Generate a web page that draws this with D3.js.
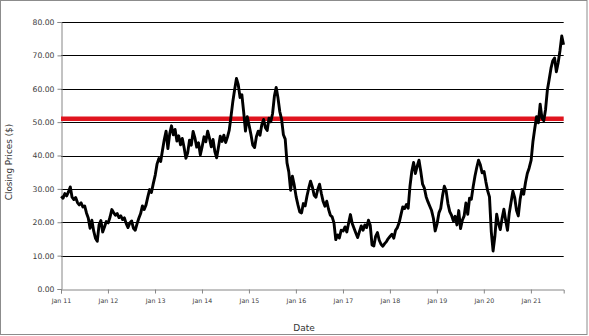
<!DOCTYPE html>
<html>
<head>
<meta charset="utf-8">
<script src="https://cdn.jsdelivr.net/npm/d3@7"></script>
<style>
  body { margin: 0; background: #fff; }
  svg { display: block; }
</style>
</head>
<body>
<div id="chart"></div>
<script>
// closing prices, one reading about every two weeks, starting early January each year
var price2011 = [27.8, 27.2, 28.6, 27.9, 29.1, 30.6, 27.5, 26.8, 27.4, 25.9, 25.2, 25.8, 24.6, 24.9, 22.8, 21.3, 18.2, 20.6, 17.4, 15.2, 14.3, 19.2, 20.5, 17.1, 18.6, 20.2];
var price2012 = [19.8, 21.5, 23.8, 22.9, 22.1, 22.6, 21.4, 21.9, 20.8, 21.3, 19.6, 18.4, 19.8, 20.4, 18.2, 17.6, 19.5, 21.2, 22.6, 24.9, 23.8, 25.2, 27.6, 29.8, 28.9, 31.5];
var price2013 = [34.2, 37.5, 39.1, 38.2, 41.6, 44.8, 47.3, 42.1, 46.5, 48.9, 46.2, 47.8, 44.3, 45.9, 43.2, 45.1, 42.4, 39.2, 40.8, 44.6, 43.1, 47.2, 45.3, 42.5, 43.8, 40.2];
var price2014 = [42.8, 45.6, 44.1, 47.3, 45.2, 42.6, 44.8, 41.2, 39.3, 42.5, 45.8, 44.2, 46.1, 43.9, 45.5, 47.6, 51.8, 56.2, 59.8, 63.1, 61.2, 57.4, 58.2, 53.1, 47.3, 51.6];
var price2015 = [48.9, 46.2, 43.1, 42.4, 45.6, 47.3, 46.1, 49.2, 50.8, 48.3, 47.5, 51.2, 50.1, 52.6, 57.8, 60.4, 57.2, 53.1, 50.8, 46.2, 44.9, 37.8, 35.1, 29.6, 33.8, 31.2];
var price2016 = [27.6, 25.2, 23.1, 22.8, 25.6, 24.9, 27.8, 30.2, 32.3, 30.6, 28.1, 27.5, 29.8, 31.4, 28.6, 26.2, 24.8, 26.3, 23.9, 22.1, 21.6, 19.8, 14.8, 16.2, 15.3, 17.6];
var price2017 = [17.4, 18.6, 17.1, 19.8, 22.3, 19.6, 18.2, 16.8, 15.4, 17.2, 18.9, 17.6, 19.2, 18.4, 20.6, 19.1, 13.2, 12.9, 15.8, 16.9, 14.6, 13.4, 12.8, 13.6, 14.2, 15.1];
var price2018 = [15.8, 16.4, 15.2, 17.6, 18.4, 19.9, 22.3, 24.6, 24.1, 25.3, 24.2, 30.8, 35.2, 37.9, 34.6, 36.8, 38.6, 35.2, 31.4, 30.2, 27.6, 26.1, 24.8, 23.5, 21.2, 17.4];
var price2019 = [19.6, 22.8, 24.1, 27.9, 30.8, 29.4, 25.6, 23.2, 22.1, 20.4, 21.8, 19.2, 23.5, 18.1, 20.6, 21.9, 25.8, 22.4, 27.2, 26.9, 30.6, 33.8, 36.4, 38.6, 37.2, 34.8];
var price2020 = [35.2, 32.1, 29.4, 27.6, 17.2, 11.4, 15.8, 22.4, 19.6, 17.8, 21.2, 23.9, 20.5, 17.6, 22.8, 26.1, 29.3, 27.4, 23.6, 21.9, 26.8, 29.8, 28.4, 31.9, 34.6, 36.2];
var price2021 = [38.6, 44.2, 48.1, 51.6, 49.8, 55.4, 51.2, 50.4, 53.8, 59.6, 62.8, 66.1, 68.4, 69.2, 65.1, 67.8, 71.4, 75.8, 73.2];

var years = [2011, 2012, 2013, 2014, 2015, 2016, 2017, 2018, 2019, 2020, 2021];
var yearPrices = [price2011, price2012, price2013, price2014, price2015, price2016, price2017, price2018, price2019, price2020, price2021];

var yTicks = [0, 10, 20, 30, 40, 50, 60, 70, 80];
var threshold = 51.0;

var data = [];
years.forEach(function(yr, k) {
  yearPrices[k].forEach(function(v, i) {
    data.push({date: new Date(yr, 0, 3 + i * 14), value: v});
  });
});

var W = 589, H = 336;
var plotL = 61, plotR = 563.7, plotT = 22, plotB = 289;

var svg = d3.select("#chart").append("svg")
  .attr("width", W).attr("height", H);

svg.append("rect")
  .attr("x", 0.5).attr("y", 0.5)
  .attr("width", 586.5).attr("height", 334)
  .attr("fill", "#fff").attr("stroke", "#8c8c8c").attr("stroke-width", 1);

var x = d3.scaleTime()
  .domain([new Date(2011, 0, 1), new Date(2021, 8, 13)])
  .range([plotL, plotR]);
var y = d3.scaleLinear().domain([0, 80]).range([plotB, plotT]);

// gridlines
svg.append("g").selectAll("line")
  .data(yTicks.slice(1)).enter().append("line")
  .attr("x1", plotL).attr("x2", plotR)
  .attr("y1", function(d) { return Math.round(y(d)) + 0.5; })
  .attr("y2", function(d) { return Math.round(y(d)) + 0.5; })
  .attr("stroke", "#000").attr("stroke-width", 1);

// y axis
var yAxis = svg.append("g")
  .attr("transform", "translate(" + (plotL + 0.5) + ",0)")
  .call(d3.axisLeft(y).tickValues(yTicks).tickFormat(d3.format(".2f")).tickSize(4).tickPadding(3));
yAxis.select(".domain").attr("stroke", "#868686");
yAxis.selectAll(".tick line").attr("stroke", "#868686");
yAxis.selectAll("text")
  .attr("font-family", "DejaVu Sans").attr("font-size", "7.7px").attr("fill", "#404040");

// x axis
var xAxis = svg.append("g")
  .attr("transform", "translate(0," + (plotB + 0.5) + ")")
  .call(d3.axisBottom(x).ticks(d3.timeYear.every(1)).tickFormat(d3.timeFormat("%b %y")).tickSize(4).tickPadding(5));
xAxis.select(".domain").attr("stroke", "#868686");
xAxis.selectAll(".tick line").attr("stroke", "#868686");
xAxis.selectAll("text")
  .attr("font-family", "DejaVu Sans").attr("font-size", "6.3px").attr("fill", "#404040");

// threshold line
svg.append("line")
  .attr("x1", plotL).attr("x2", plotR)
  .attr("y1", y(threshold)).attr("y2", y(threshold))
  .attr("stroke", "#e0141e").attr("stroke-width", 4.5);

// price line
var line = d3.line()
  .x(function(d) { return x(d.date); })
  .y(function(d) { return y(d.value); });

svg.append("path")
  .datum(data)
  .attr("d", line)
  .attr("fill", "none")
  .attr("stroke", "#000")
  .attr("stroke-width", 2.9)
  .attr("stroke-linejoin", "round");

// titles
svg.append("text")
  .attr("x", 304).attr("y", 331)
  .attr("text-anchor", "middle")
  .attr("font-family", "DejaVu Sans").attr("font-size", "9px").attr("fill", "#333")
  .text("Date");

svg.append("text")
  .attr("transform", "translate(12,162) rotate(-90)")
  .attr("text-anchor", "middle")
  .attr("font-family", "DejaVu Sans").attr("font-size", "8.8px").attr("fill", "#333")
  .text("Closing Prices ($)");
</script>
</body>
</html>
